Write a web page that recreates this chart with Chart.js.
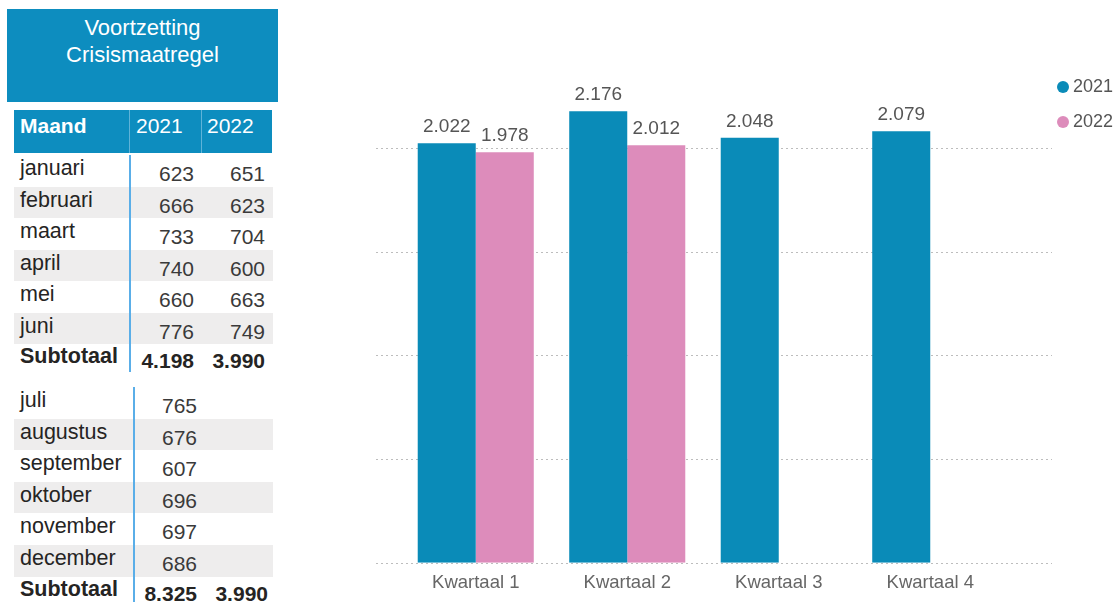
<!DOCTYPE html>
<html>
<head>
<meta charset="utf-8">
<script src="https://cdn.jsdelivr.net/npm/chart.js@4"></script>
<style>
  html, body { margin: 0; padding: 0; background: #fff; }
  body { width: 1120px; height: 602px; position: relative; overflow: hidden; font-family: "Liberation Sans", Arial, sans-serif; }
  .abs { position: absolute; }
  #title { left: 7px; top: 9px; width: 271px; height: 93px; background: #0d8dbf; color: #fff; font-size: 22px; line-height: 27px; text-align: center; padding-top: 5px; box-sizing: border-box; }
  #head { left: 14px; top: 110px; width: 258px; height: 43px; background: #0d8dbf; color: #fff; font-size: 21px; }
  .row { left: 14px; width: 259px; }
  .gray { background: #eeeded; }
  .name { left: 6px; color: #252423; font-size: 21.5px; }
  .val { color: #3a3a3a; font-size: 21px; text-align: right; }
  .bold { font-weight: bold; color: #252423; }
  .sep { width: 2px; background: #5aaee8; }
  #chartBox { left: 370px; top: 0; width: 690px; height: 602px; }
  .leg { left: 1057px; font-size: 18px; color: #555; line-height: 20px; }
  .dot { display: inline-block; width: 12px; height: 12px; border-radius: 50%; margin-right: 4px; vertical-align: -1px; }
</style>
</head>
<body>
<div id="title" class="abs">Voortzetting<br>Crisismaatregel</div>
<div id="head" class="abs">
  <div class="abs" style="left:6px;top:4px;font-weight:bold;">Maand</div>
  <div class="abs" style="left:115px;top:0;width:1px;height:43px;background:#5fb3d8;"></div>
  <div class="abs" style="left:122px;top:4px;">2021</div>
  <div class="abs" style="left:187px;top:0;width:1px;height:43px;background:#5fb3d8;"></div>
  <div class="abs" style="left:193px;top:4px;">2022</div>
</div>
<div id="table"></div>
<div id="chartBox" class="abs"><canvas id="quarterChart"></canvas></div>
<div class="abs leg" style="top:76px;"><span class="dot" style="background:#0a8bb8"></span>2021</div>
<div class="abs leg" style="top:111px;"><span class="dot" style="background:#dd8cbb"></span>2022</div>

<script>
// Maanden en aantallen per jaar
const monthsH1 = ['januari', 'februari', 'maart', 'april', 'mei', 'juni'];
const monthsH2 = ['juli', 'augustus', 'september', 'oktober', 'november', 'december'];
const values2021H1 = [623, 666, 733, 740, 660, 776];
const values2022H1 = [651, 623, 704, 600, 663, 749];
const values2021H2 = [765, 676, 607, 696, 697, 686];
const subtotals2021 = [4198, 8325];
const subtotals2022 = [3990, 3990];

// Kwartalen voor de grafiek
const quarters = ['Kwartaal 1', 'Kwartaal 2', 'Kwartaal 3', 'Kwartaal 4'];
const quarter2021 = [2022, 2176, 2048, 2079];
const quarter2022 = [1978, 2012, null, null];

const BLUE = '#0a8bb8';
const PINK = '#dd8cbb';

function fmt(v) {
    return String(v).replace(/\B(?=(\d{3})+(?!\d))/g, '.');
}

/**
 * Build one block of the month table (right1/right2 = right edge of the number columns)
 */
function buildBlock(top, rowH, names, col1, col2, sub1, sub2, right1, right2, sepX) {
    const table = document.getElementById('table');
    const rows = names.map((n, i) => [n, col1[i], col2 ? col2[i] : null, false]);
    rows.push(['Subtotaal', sub1, sub2, true]);
    rows.forEach((r, i) => {
        const div = document.createElement('div');
        div.className = 'abs row' + (i % 2 === 1 && !r[3] ? ' gray' : '');
        div.style.top = (top + i * rowH) + 'px';
        div.style.height = rowH + 'px';
        const nameCls = r[3] ? 'abs name bold' : 'abs name';
        const valCls = r[3] ? 'abs val bold' : 'abs val';
        const nameTop = r[3] ? -3 : -2;
        const valTop = r[3] ? 1 : 3;
        let html = `<div class="${nameCls}" style="top:${nameTop}px;line-height:${rowH}px">${r[0]}</div>`;
        html += `<div class="${valCls}" style="right:${273 - right1}px;top:${valTop}px;line-height:${rowH}px">${fmt(r[1])}</div>`;
        if (r[2] !== null) {
            html += `<div class="${valCls}" style="right:${273 - right2}px;top:${valTop}px;line-height:${rowH}px">${fmt(r[2])}</div>`;
        }
        div.innerHTML = html;
        table.appendChild(div);
    });
    const sep = document.createElement('div');
    sep.className = 'abs sep';
    sep.style.left = sepX + 'px';
    sep.style.top = top + 'px';
    sep.style.height = (rows.length * rowH - 4) + 'px';
    table.appendChild(sep);
}

buildBlock(155, 31.5, monthsH1, values2021H1, values2022H1, subtotals2021[0], subtotals2022[0], 194, 265, 129);
buildBlock(387, 31.6, monthsH2, values2021H2, null, subtotals2021[1], subtotals2022[1], 197, 268, 133);

// Dotted horizontal guide lines, a bit wider than the bars area
const gridPlugin = {
    id: 'dottedGrid',
    beforeDatasetsDraw(chart) {
        const y = chart.scales.y;
        const area = chart.chartArea;
        const ctx = chart.ctx;
        ctx.save();
        ctx.strokeStyle = '#bdbdbd';
        ctx.lineWidth = 1;
        ctx.setLineDash([2, 3]);
        y.ticks.forEach(t => {
            if (t.value >= y.max) return;
            const py = Math.round(y.getPixelForValue(t.value)) + 0.5;
            ctx.beginPath();
            ctx.moveTo(area.left - 24, py);
            ctx.lineTo(area.right + 46, py);
            ctx.stroke();
        });
        ctx.restore();
    }
};

// Value labels above each bar
const labelPlugin = {
    id: 'barLabels',
    afterDatasetsDraw(chart) {
        const ctx = chart.ctx;
        ctx.save();
        ctx.font = '19px "Liberation Sans", Arial, sans-serif';
        ctx.fillStyle = '#555';
        ctx.textAlign = 'center';
        ctx.textBaseline = 'alphabetic';
        chart.data.datasets.forEach((ds, di) => {
            chart.getDatasetMeta(di).data.forEach((bar, i) => {
                if (ds.data[i] === null) return;
                ctx.fillText(fmt(ds.data[i]), bar.x, bar.y - 11);
            });
        });
        ctx.restore();
    }
};

new Chart(document.getElementById('quarterChart'), {
    type: 'bar',
    data: {
        labels: quarters,
        datasets: [
            { label: '2021', data: quarter2021, backgroundColor: BLUE },
            { label: '2022', data: quarter2022, backgroundColor: PINK }
        ]
    },
    options: {
        responsive: true,
        maintainAspectRatio: false,
        animation: false,
        layout: { padding: { left: 30, right: 54, top: 44, bottom: 7 } },
        datasets: { bar: { barPercentage: 1, categoryPercentage: 0.766 } },
        plugins: {
            legend: { display: false },
            tooltip: { enabled: false }
        },
        scales: {
            x: {
                grid: { display: false },
                border: { display: false },
                ticks: { color: '#666', padding: 1, font: { size: 18.5, family: '"Liberation Sans", Arial, sans-serif' } }
            },
            y: {
                display: false,
                min: 0,
                max: 2500,
                ticks: { stepSize: 500 }
            }
        }
    },
    plugins: [gridPlugin, labelPlugin]
});
</script>
</body>
</html>
